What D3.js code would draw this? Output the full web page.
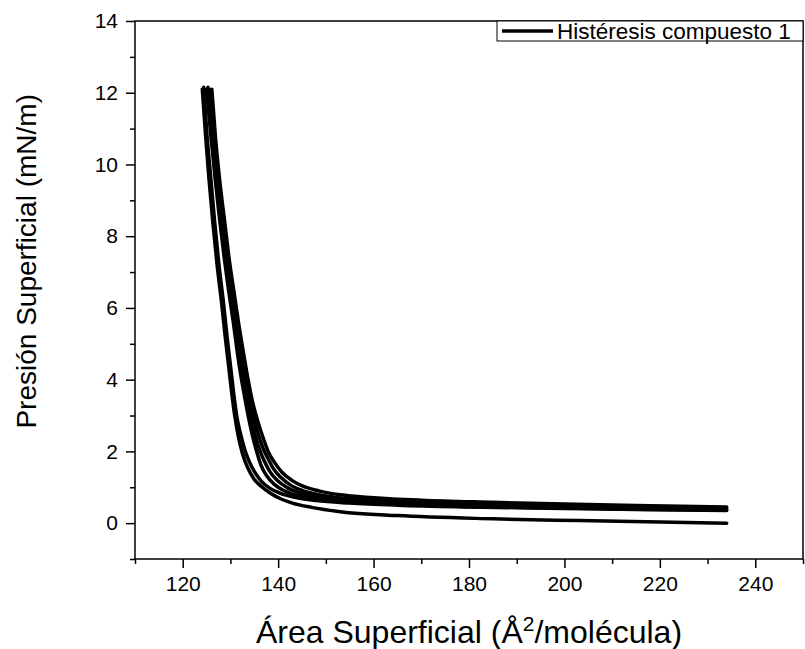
<!DOCTYPE html>
<html>
<head>
<meta charset="utf-8">
<script src="https://cdn.jsdelivr.net/npm/d3@7.9.0/dist/d3.min.js"></script>
<style>
  body { margin: 0; background: #ffffff; }
  svg { display: block; font-family: "Liberation Sans", Arial, sans-serif; }
</style>
</head>
<body>
<div id="chart"></div>
<script>
// cycles: [area (Å²/molécula), presión (mN/m)]
const firstCompression = [
  [234, 0.00], [220, 0.03], [203, 0.07], [185, 0.12], [165, 0.21], [153, 0.32],
  [147, 0.44], [143, 0.56], [140.5, 0.68], [138.3, 0.84], [136.5, 1.02], [134.9, 1.24],
  [133.6, 1.55], [132.5, 1.95], [131.6, 2.45], [130.9, 3.0], [130.3, 3.6], [129.6, 4.4],
  [128.9, 5.2], [128.1, 6.2], [127.2, 7.2], [126.3, 8.4], [125.5, 9.6], [124.8, 10.8],
  [124.1, 12.1]
];
const cycle2 = [
  [234, 0.35], [215, 0.38], [200, 0.41], [180, 0.45], [165, 0.50], [155, 0.56],
  [148, 0.63], [143.5, 0.72], [140.5, 0.83], [138.3, 0.97], [136.6, 1.15], [135.2, 1.4],
  [134.0, 1.7], [133.0, 2.05], [132.1, 2.5], [131.3, 3.0], [130.7, 3.6], [130.0, 4.4],
  [129.3, 5.2], [128.5, 6.2], [127.6, 7.2], [126.7, 8.4], [125.9, 9.6], [125.1, 10.8],
  [124.4, 12.15]
];
const cycle3 = [
  [234, 0.36], [215, 0.39], [200, 0.42], [180, 0.46], [165, 0.52], [155, 0.58],
  [148, 0.66], [144, 0.77], [141.2, 0.91], [139.2, 1.08], [137.6, 1.32], [136.4, 1.62],
  [135.5, 2.0], [134.6, 2.45], [133.7, 3.0], [133.0, 3.5], [132.2, 4.1], [131.4, 4.8],
  [130.6, 5.6], [129.6, 6.5], [128.7, 7.4], [127.7, 8.5], [126.8, 9.6], [125.9, 10.8],
  [125.0, 12.1]
];
const cycle4 = [
  [234, 0.39], [215, 0.42], [200, 0.46], [180, 0.50], [165, 0.56], [155, 0.63],
  [148.5, 0.72], [144.6, 0.84], [141.9, 0.99], [139.9, 1.18], [138.3, 1.43], [137.1, 1.73],
  [136.1, 2.05], [135.2, 2.45], [134.3, 3.0], [133.5, 3.5], [132.7, 4.1], [131.9, 4.8],
  [131.0, 5.6], [130.0, 6.5], [129.0, 7.4], [128.0, 8.5], [127.1, 9.6], [126.2, 10.8],
  [125.3, 12.15]
];
const cycle5 = [
  [234, 0.42], [215, 0.46], [200, 0.50], [180, 0.55], [165, 0.61], [155, 0.68],
  [149, 0.78], [145.3, 0.90], [142.6, 1.06], [140.6, 1.27], [139.0, 1.52], [137.8, 1.82],
  [136.8, 2.1], [135.8, 2.5], [134.8, 3.0], [134.0, 3.5], [133.2, 4.1], [132.3, 4.8],
  [131.4, 5.6], [130.4, 6.5], [129.4, 7.4], [128.4, 8.5], [127.4, 9.6], [126.5, 10.8],
  [125.6, 12.1]
];
const cycle6 = [
  [234, 0.45], [215, 0.49], [200, 0.53], [185, 0.58], [170, 0.64], [160, 0.71],
  [153, 0.79], [148.5, 0.90], [145.2, 1.03], [142.8, 1.2], [140.8, 1.42], [139.2, 1.7],
  [137.9, 2.0], [136.8, 2.4], [135.6, 2.9], [134.6, 3.4], [133.7, 4.0], [132.8, 4.7],
  [131.8, 5.5], [130.8, 6.4], [129.8, 7.3], [128.8, 8.4], [127.8, 9.5], [126.9, 10.7],
  [126.1, 12.1]
];
const cycles = [firstCompression, cycle2, cycle3, cycle4, cycle5, cycle6];

const xTicks = [120, 140, 160, 180, 200, 220, 240];
const xMinorTicks = [110, 130, 150, 170, 190, 210, 230, 250];
const yTicks = [0, 2, 4, 6, 8, 10, 12, 14];
const yMinorTicks = [-1, 1, 3, 5, 7, 9, 11, 13];
const legendLabel = "Histéresis compuesto 1";

const width = 805, height = 649;
const margin = { top: 21, right: 2, bottom: 90, left: 135 };

const svg = d3.select("#chart")
  .append("svg")
  .attr("width", width)
  .attr("height", height);

const x = d3.scaleLinear().domain([110, 250]).range([margin.left, width - margin.right]);
const y = d3.scaleLinear().domain([-1, 14]).range([height - margin.bottom, margin.top]);

// curves (sorted by area so monotone interpolation works)
const line = d3.line()
  .x(d => x(d[0]))
  .y(d => y(d[1]))
  .curve(d3.curveMonotoneX);

svg.append("g")
  .selectAll("path")
  .data(cycles)
  .join("path")
  .attr("d", d => line(d.slice().sort((a, b) => a[0] - b[0])))
  .attr("fill", "none")
  .attr("stroke", "#000")
  .attr("stroke-width", 3.5)
  .attr("stroke-linecap", "round")
  .attr("stroke-linejoin", "round");

// frame
svg.append("rect")
  .attr("x", x(110))
  .attr("y", y(14))
  .attr("width", x(250) - x(110))
  .attr("height", y(-1) - y(14))
  .attr("fill", "none")
  .attr("stroke", "#000")
  .attr("stroke-width", 1.5);

// axes
svg.append("g")
  .attr("transform", `translate(0,${y(-1)})`)
  .call(d3.axisBottom(x).tickValues(xTicks).tickSize(9).tickPadding(8).tickFormat(d3.format("d")));
svg.append("g")
  .attr("transform", `translate(0,${y(-1)})`)
  .call(d3.axisBottom(x).tickValues(xMinorTicks).tickSize(5).tickFormat(""));

svg.append("g")
  .attr("transform", `translate(${x(110)},0)`)
  .call(d3.axisLeft(y).tickValues(yTicks).tickSize(9).tickPadding(8).tickFormat(d3.format("d")));
svg.append("g")
  .attr("transform", `translate(${x(110)},0)`)
  .call(d3.axisLeft(y).tickValues(yMinorTicks).tickSize(5).tickFormat(""));

svg.selectAll(".domain").remove();
svg.selectAll(".tick line").attr("stroke", "#000").attr("stroke-width", 1.5);
svg.selectAll(".tick text")
  .attr("fill", "#000")
  .style("font-size", "21px")
  .style("font-family", "'Liberation Sans', Arial, sans-serif");

// axis titles
const xTitle = svg.append("text")
  .attr("x", (x(110) + x(250)) / 2)
  .attr("y", 643)
  .attr("text-anchor", "middle")
  .style("font-size", "32px")
  .attr("fill", "#000");
xTitle.append("tspan").text("Área Superficial (Å");
xTitle.append("tspan").attr("dy", -12).style("font-size", "21px").text("2");
xTitle.append("tspan").attr("dy", 12).text("/molécula)");

svg.append("text")
  .attr("transform", `translate(36,${y(7.3)}) rotate(-90)`)
  .attr("text-anchor", "middle")
  .style("font-size", "28px")
  .attr("fill", "#000")
  .text("Presión Superficial (mN/m)");

// legend
const legend = svg.append("g");
legend.append("rect")
  .attr("x", 497)
  .attr("y", y(14))
  .attr("width", x(250) - 497)
  .attr("height", 20)
  .attr("fill", "#fff")
  .attr("stroke", "#000")
  .attr("stroke-width", 1);
legend.append("line")
  .attr("x1", 502).attr("x2", 553)
  .attr("y1", y(14) + 10).attr("y2", y(14) + 10)
  .attr("stroke", "#000")
  .attr("stroke-width", 3.3);
legend.append("text")
  .attr("x", 557)
  .attr("y", y(14) + 18)
  .style("font-size", "22.5px")
  .attr("fill", "#000")
  .text(legendLabel);
</script>
</body>
</html>
